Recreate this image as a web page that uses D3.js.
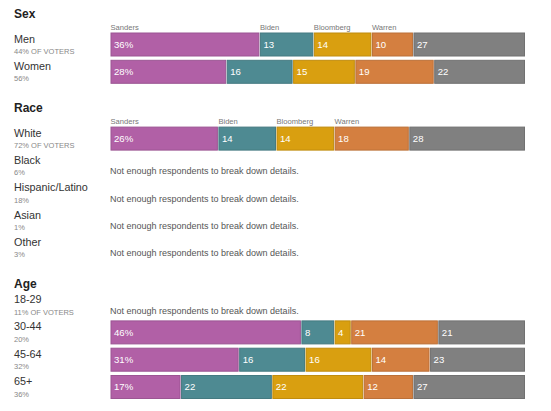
<!DOCTYPE html>
<html>
<head>
<meta charset="utf-8">
<script src="https://cdn.jsdelivr.net/npm/d3@7"></script>
<style>
  body { margin: 0; background: #fff; }
  svg { font-family: "Liberation Sans", Arial, sans-serif; }
</style>
</head>
<body>
<div id="chart"></div>
<script>
// candidates, in stacking order ("other" has no name label)
const candidates = ["Sanders", "Biden", "Bloomberg", "Warren", "Other"];
const colors = ["#b160a6", "#4e8a92", "#d99f10", "#d47f40", "#808080"];

// Sex
const sexGroups = ["Men", "Women"];
const sexShares = ["44% OF VOTERS", "56%"];
const sexValues = [
    [36, 13, 14, 10, 27],
    [28, 16, 15, 19, 22]
];

// Race
const raceGroups = ["White", "Black", "Hispanic/Latino", "Asian", "Other"];
const raceShares = ["72% OF VOTERS", "6%", "18%", "1%", "3%"];
const raceValues = [
    [26, 14, 14, 18, 28],
    null, null, null, null
];

// Age
const ageGroups = ["18-29", "30-44", "45-64", "65+"];
const ageShares = ["11% OF VOTERS", "20%", "32%", "36%"];
const ageValues = [
    null,
    [46, 8, 4, 21, 21],
    [31, 16, 16, 14, 23],
    [17, 22, 22, 12, 27]
];

const sections = [
    { title: "Sex", groups: sexGroups, shares: sexShares, values: sexValues },
    { title: "Race", groups: raceGroups, shares: raceShares, values: raceValues },
    { title: "Age", groups: ageGroups, shares: ageShares, values: ageValues }
];

const noData = "Not enough respondents to break down details.";

function drawChart(containerId = "chart") {
    const width = 551, height = 411;
    const rowPitch = 27.3, barH = 24;

    const svg = d3.select(`#${containerId}`).append("svg")
        .attr("width", width)
        .attr("height", height);

    const x = d3.scaleLinear().domain([0, 100]).range([110, 525]);

    let titleY = 14;
    sections.forEach(sec => {
        const g = svg.append("g");
        g.append("text")
            .attr("x", 14)
            .attr("y", titleY + 4.3)
            .attr("font-size", 12)
            .attr("font-weight", "bold")
            .attr("fill", "#222")
            .text(sec.title);

        const hasLabels = sec.values[0] != null;
        const rowStart = titleY + (hasLabels ? 18.5 : 9);
        const y = d3.scaleLinear()
            .domain([0, 1])
            .range([rowStart, rowStart + rowPitch]);

        // candidate names above the first bar
        if (hasLabels) {
            const cum = d3.cumsum(sec.values[0]);
            candidates.slice(0, 4).forEach((name, i) => {
                g.append("text")
                    .attr("x", x(i === 0 ? 0 : cum[i - 1]) + 0.5)
                    .attr("y", rowStart - 3)
                    .attr("font-size", 7.6)
                    .attr("fill", "#777")
                    .text(name);
            });
        }

        sec.groups.forEach((grp, r) => {
            const top = y(r);
            g.append("text")
                .attr("x", 14)
                .attr("y", top + 10)
                .attr("font-size", 10.8)
                .attr("fill", "#333")
                .text(grp);
            g.append("text")
                .attr("x", 14)
                .attr("y", top + 21.5)
                .attr("font-size", 7.5)
                .attr("fill", "#888")
                .text(sec.shares[r]);

            const vals = sec.values[r];
            if (vals == null) {
                g.append("text")
                    .attr("x", 110)
                    .attr("y", top + 20.5)
                    .attr("font-size", 9)
                    .attr("fill", "#555")
                    .text(noData);
                return;
            }
            const cum = d3.cumsum(vals);
            const segs = vals.map((v, i) => ({
                v, i, x0: i === 0 ? 0 : cum[i - 1], x1: cum[i]
            }));
            const bar = g.append("g");
            bar.selectAll("rect")
                .data(segs)
                .enter()
                .append("rect")
                .attr("x", d => x(d.x0) + 1)
                .attr("y", top + 0.5)
                .attr("width", d => x(d.x1) - x(d.x0) - 1.5)
                .attr("height", barH - 1)
                .attr("fill", d => colors[d.i])
                .attr("stroke", d => d3.color(colors[d.i]).darker(0.35))
                .attr("stroke-width", 1);
            bar.selectAll("text")
                .data(segs)
                .enter()
                .append("text")
                .attr("x", d => x(d.x0) + 4)
                .attr("y", top + barH / 2 + 3.4)
                .attr("font-size", 9.6)
                .attr("fill", "#fff")
                .text(d => d.i === 0 ? d.v + "%" : d.v);
        });

        titleY = rowStart + sec.groups.length * rowPitch + 21;
    });
}

document.addEventListener('DOMContentLoaded', () => {
    drawChart();
});
</script>
</body>
</html>
